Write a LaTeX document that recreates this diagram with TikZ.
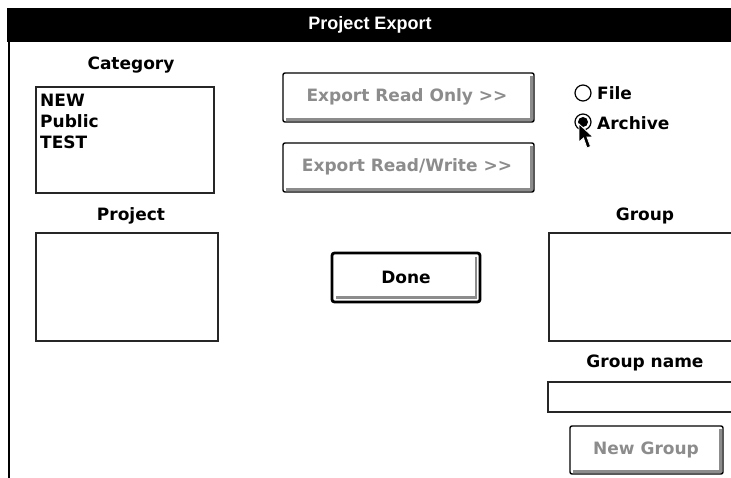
\documentclass[tikz,border=0pt]{standalone}
\usepackage{fontspec}
\setmainfont{DejaVu Sans}
\newfontfamily\titlefont{Liberation Sans}
\begin{document}
\begin{tikzpicture}[x=1pt,y=-1pt,
  lbl/.style={font=\fontsize{17}{19}\selectfont\bfseries, inner sep=0pt},
  gtxt/.style={font=\fontsize{17}{19}\selectfont\bfseries, text=black!45, inner sep=0pt},
  listbox/.style={draw=black!85, line width=1.3pt},
  shadow/.style={draw=black!45, line width=2.2pt},
  btnframe/.style={draw=black, line width=1.4pt, rounded corners=2pt},
  donframe/.style={draw=black, line width=2.8pt, rounded corners=2.5pt}
]
\useasboundingbox (0,0) rectangle (731,478);
\fill[white] (0,0) rectangle (731,478);
% window
\fill[black] (7,8) rectangle (731,42);
\draw[line width=2pt] (8.5,42) -- (8.5,478);
\node[font=\titlefont\fontsize{18}{20}\selectfont\bfseries, text=white, inner sep=0pt] (title) at (370,25) {Project Export};

% Category
\node[lbl] (catlbl) at (131,65) {Category};
\draw[listbox] (36,87) rectangle (214,193);
\node[lbl, anchor=west] (new) at (40,100) {NEW};
\node[lbl, anchor=west] (pub) at (40,121) {Public};
\node[lbl, anchor=west] (test) at (40,142) {TEST};

% Project
\node[lbl] (projlbl) at (131,216) {Project};
\draw[listbox] (36,233) rectangle (218,341);

% Export buttons
\draw[shadow] (531.5,76) -- (531.5,119.5) -- (286,119.5);
\draw[btnframe] (283,73) rectangle (534,122);
\node[gtxt] (ero) at (407,97) {Export Read Only >{}>};
\draw[shadow] (531.5,146) -- (531.5,189.5) -- (286,189.5);
\draw[btnframe] (283,143) rectangle (534,192);
\node[gtxt] (erw) at (407,167) {Export Read/Write >{}>};

% Radio buttons
\draw[line width=1.2pt] (583,93) circle (8);
\node[lbl, anchor=west] (file) at (597,93) {File};
\draw[line width=1.2pt] (583,122) circle (8);
\fill (583,122) circle (5);
\node[lbl, anchor=west] (arch) at (597,123) {Archive};
% cursor
\filldraw[fill=black, draw=white, line width=0.8pt]
  (579,124) -- (579,142) -- (583.5,138) -- (587,148) -- (590.5,146.5) -- (587,137) -- (593,137) -- cycle;

% Done
\draw[shadow] (476,257) -- (476,297.5) -- (336,297.5);
\draw[donframe] (332,253) rectangle (480,302);
\node[lbl] (done) at (406,277) {Done};

% Group
\node[lbl] (grplbl) at (645,216) {Group};
\draw[listbox] (549,233) rectangle (733,341);
\node[lbl] (gnlbl) at (645,363) {Group name};
\draw[listbox] (548,382) rectangle (733,412);

% New Group
\draw[shadow] (720.5,429) -- (720.5,471.5) -- (573,471.5);
\draw[btnframe] (570,426) rectangle (723,474);
\node[gtxt] (ng) at (646,450) {New Group};
\end{tikzpicture}
\end{document}
